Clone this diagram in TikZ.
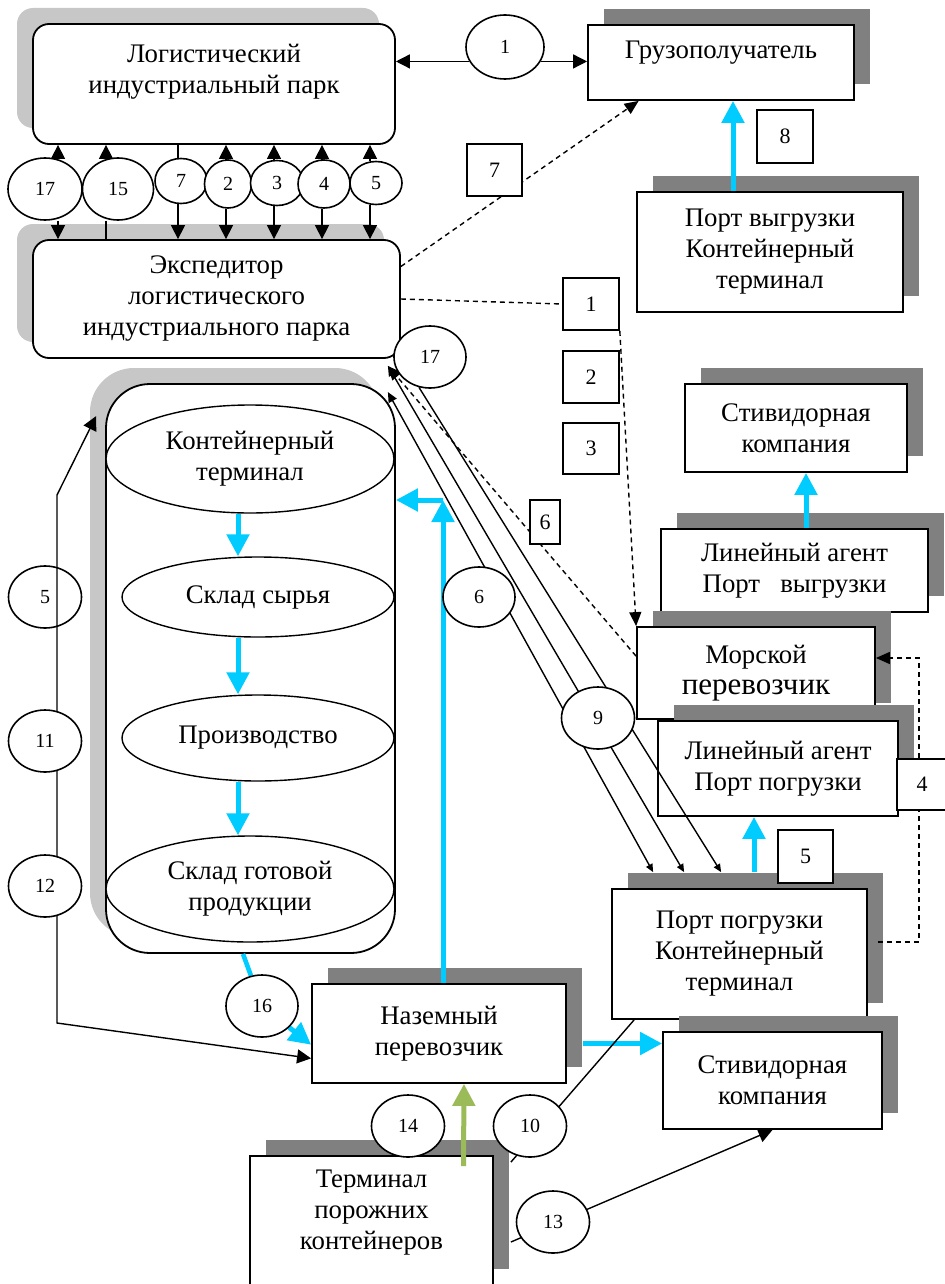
\documentclass[tikz,border=0pt]{standalone}
\usepackage{fontspec}
\setmainfont{Liberation Serif}
\usetikzlibrary{calc,shapes.geometric,arrows.meta,shadows}
\pgfdeclarelayer{back}
\pgfdeclarelayer{front}
\pgfsetlayers{back,main,front}
\definecolor{flow}{HTML}{00CCFF}
\definecolor{greenflow}{HTML}{9BBB59}
\newcommand\lblfont{\fontsize{13.4}{15.5}\selectfont}
\newcommand\digfont{\fontsize{10}{11}\selectfont}
\newcommand\sqfont{\fontsize{11}{12}\selectfont}

\begin{document}
\begin{tikzpicture}[x=0.5pt, y=-0.5pt,
	box/.style = {draw, fill=white, line width=0.9pt, align=center, inner sep=0pt, font=\lblfont},
	park/.style = {box, rounded corners=8pt, drop shadow={shadow xshift=-8pt, shadow yshift=8pt, fill=black!22, opacity=1}},
	party/.style = {box, drop shadow={shadow xshift=8pt, shadow yshift=8pt, fill=black!50, opacity=1}},
	stage/.style = {box, ellipse, line width=0.7pt},
	num/.style = {draw, ellipse, fill=white, line width=0.8pt, inner sep=0pt, minimum width=36.5pt, minimum height=31pt, font=\digfont},
	tag/.style = {draw, fill=white, line width=0.8pt, inner sep=0pt, minimum width=28pt, minimum height=26pt, font=\sqfont},
	link/.style = {line width=0.7pt},
	arr/.style = {link, -{Triangle[length=7pt,width=7pt]}},
	twoway/.style = {link, {Triangle[length=5pt,width=4.5pt]}-{Triangle[length=4pt,width=3.5pt]}},
	oneway/.style = {link, -{Triangle[length=4pt,width=3.5pt]}},
	bothends/.style = {link, {Triangle[length=7pt,width=7pt]}-{Triangle[length=7pt,width=7pt]}},
	dashlink/.style = {link, dash pattern=on 2.5pt off 2pt},
	dasharr/.style = {dashlink, -{Triangle[length=7pt,width=6pt]}},
	flowline/.style = {draw=flow, line width=2.3pt},
	flowarr/.style = {draw=flow, line width=2.5pt, -{Triangle[length=11pt,width=11pt]}},
	greenarr/.style = {draw=greenflow, line width=2.5pt, -{Triangle[length=11pt,width=11pt]}}]
	\useasboundingbox (0,0) rectangle (945,1284);

	\begin{pgfonlayer}{back}
		\node[park, minimum width=181pt, minimum height=60pt, text depth=15pt] (lip) at (214,84) {Логистический\\индустриальный парк};
		\node[park, minimum width=183.5pt, minimum height=59pt] (exp) at (216.5,299) {Экспедитор\\логистического\\индустриального парка};
		\node[park, rounded corners=22pt, minimum width=144.5pt, minimum height=284.5pt] (cyl) at (250.5,668.5) {};
		\node[stage, minimum width=144pt, minimum height=54pt] (e1) at (250,459) {Контейнерный\\терминал};
		\node[stage, minimum width=136pt, minimum height=40pt] (e2) at (258,597) {Склад сырья};
		\node[stage, minimum width=136pt, minimum height=43pt] (e3) at (258,738) {Производство};
		\node[stage, minimum width=144pt, minimum height=53pt] (e4) at (250,889) {Склад готовой\\продукции};

		\node[party, minimum width=133pt, minimum height=37.5pt, text depth=12.8pt] (gruz) at (721,62.5) {Грузополучатель};
		\node[party, minimum width=133pt, minimum height=60pt] (pv) at (770,252) {Порт выгрузки\\Контейнерный\\терминал};
		\node[party, minimum width=111pt, minimum height=44pt] (sc1) at (796,428) {Стивидорная\\компания};
		\node[party, minimum width=133.5pt, minimum height=41.5pt] (lapv) at (794.5,570.5) {Линейный агент\\Порт~~~выгрузки};
		\node[party, minimum width=119pt, minimum height=46pt] (sea) at (756,673) {Морской\\{\fontsize{15.5}{17}\selectfont перевозчик}};
		\node[party, minimum width=120pt, minimum height=47.5pt] (lapp) at (778,768.5) {Линейный агент\\Порт погрузки};
		\node[party, minimum width=127.5pt, minimum height=65pt] (pp) at (739.5,954) {Порт погрузки\\Контейнерный\\терминал};
		\node[party, minimum width=109.5pt, minimum height=48.5pt] (sc2) at (772.5,1080.5) {Стивидорная\\компания};
		\node[party, minimum width=127pt, minimum height=49.5pt] (np) at (439,1033.5) {Наземный\\перевозчик};
		\node[party, minimum width=121.5pt, minimum height=64.5pt, text depth=10.5pt] (tpc) at (371.5,1220.5) {Терминал\\порожних\\контейнеров};
	\end{pgfonlayer}

	\begin{pgfonlayer}{front}
		\node[num, minimum width=37pt] (t17) at (45,189) {17};
		\node[num, minimum width=35.5pt] (t15) at (118,189) {15};
		\node[num, minimum width=26pt, minimum height=22.5pt] (t7) at (181,181) {7};
		\node[num, minimum width=23.5pt, minimum height=24pt] (t2) at (228,184) {2};
		\node[num, minimum width=26.5pt, minimum height=22.5pt] (t3) at (277,183) {3};
		\node[num, minimum width=26pt, minimum height=24pt] (t4) at (324,184) {4};
		\node[num, minimum width=26pt, minimum height=21.5pt] (t5) at (376,183) {5};
		\node[num, minimum width=39pt, minimum height=32pt] (c1) at (505,47) {1};
		\node[num, minimum width=36pt] (c17) at (430,357) {17};
		\node[num, minimum width=36pt, minimum height=30pt] (c6) at (479,597) {6};
		\node[num] (c9) at (598,718) {9};
		\node[num, fill=none] (l5) at (45,597) {5};
		\node[num] (l11) at (45,741) {11};
		\node[num] (l12) at (45,886) {12};
		\node[num, minimum width=36pt] (c16) at (262,1006) {16};
		\node[num] (c14) at (408,1126) {14};
		\node[num] (c10) at (530,1126) {10};
		\node[num] (c13) at (553,1222) {13};

		\node[tag, minimum width=27.5pt] (s7) at (494.5,170) {7};
		\node[tag, minimum height=26.5pt] (s8) at (785,136.5) {8};
		\node[tag] (s1) at (591,304) {1};
		\node[tag] (s2) at (591,377) {2};
		\node[tag, minimum height=25.5pt] (s3) at (591,448.5) {3};
		\node[tag, minimum width=15pt, minimum height=22pt] (s6) at (545,522) {6};
		\node[tag, minimum width=27.5pt, minimum height=26.5pt] (s5) at (805.5,856.5) {5};
		\node[tag, minimum width=25pt, minimum height=25.5pt] (s4) at (922,784.5) {4};
	\end{pgfonlayer}

	\coordinate (expin) at ($(exp.south east)+(-6.5pt,-3.5pt)$);
	\coordinate (cylin) at ($(cyl.north east)+(-4pt,-4.5pt)$);
	\coordinate (cylleft) at ($(cyl.north west)+(-4.5pt,-16.5pt)$);
	\coordinate (ppin1) at ($(pp.north west)+(21pt,8pt)$);
	\coordinate (ppin2) at ($(pp.north west)+(36.5pt,8pt)$);
	\coordinate (ppin3) at ($(pp.north west)+(55pt,8pt)$);
	\coordinate (ppout) at ($(pp.east)+(5pt,6pt)$);
	\coordinate (seaback) at (919,658);
	\coordinate (npout) at ($(np.east)+(8pt,-5pt)$);
	\coordinate (fork) at (443,500);
	\coordinate (bendtop) at (57,495);
	\coordinate (bendbot) at (57,1023);
	\coordinate (tpcout1) at ($(tpc.north east)+(8.5pt,-3.5pt)$);
	\coordinate (tpcout2) at ($(tpc.east)+(8.5pt,-10.75pt)$);

	\draw[arr] (c1.202) -- (c1.202 -| lip.east);
	\draw[arr] (c1.-22) -- (c1.-22 -| gruz.west);
	\foreach \n/\x in {t17/58,t2/226,t3/274,t4/322,t5/370}{
		\draw[arr] (\x,0 |- \n.north) -- (\x,0 |- lip.south);
		\draw[arr] (\x,0 |- \n.south) -- (\x,0 |- exp.north);
	}
	\draw[arr] (106,0 |- t15.north) -- (106,0 |- lip.south);
	\draw[link] (106,0 |- t15.south) -- (106,0 |- exp.north);
	\draw[link] (178,0 |- lip.south) -- (178,0 |- t7.north);
	\draw[arr] (178,0 |- t7.south) -- (178,0 |- exp.north);

	\draw[dasharr] (exp.10) -- (gruz.205);
	\draw[dashlink] (exp.east) -- (s1.west);
	\draw[dasharr] (s1.south east) -- (sea.north west);
	\draw[dasharr] (sea.172) -- (expin);
	\draw[dasharr] (ppout) -| (seaback) -- (seaback -| sea.east);

	\draw[twoway] (cylin) -- (ppin1);
	\draw[twoway] (expin) -- (ppin2);
	\draw[oneway] (c17.250) -- (ppin3);

	\draw[flowarr] (733,0 |- pv.north) -- (733,0 |- gruz.south);
	\draw[flowarr] (806,0 |- lapv.north) -- (806,0 |- sc1.south);
	\draw[flowarr] (754,0 |- ppin1) -- (754,0 |- lapp.south);
	\draw[flowarr] (npout) -- (npout -| sc2.west);
	\draw[flowarr] (443,0 |- np.north) -- (fork);
	\draw[flowarr] (fork) -- (fork -| cyl.east);
	\foreach \a/\b in {e1/e2,e2/e3,e3/e4}
		\draw[flowarr] (238,0 |- \a.south) -- (238,0 |- \b.north);
	\draw[flowline] (cyl.south -| 243,0) -- (c16);
	\draw[flowarr] (c16) -- (np.185);
	\draw[greenarr] ($(tpc.north)+(46pt,-5.5pt)$) -- ($(np.south)+(12.5pt,0)$);

	\draw[bothends] (cylleft) -- (bendtop) -- (bendbot) -- (np.191);
	\draw[link] (tpcout1) -- ($(pp.south west)+(11.5pt,0)$);
	\draw[arr] (tpcout2) -- (sc2.south);
\end{tikzpicture}
\end{document}
